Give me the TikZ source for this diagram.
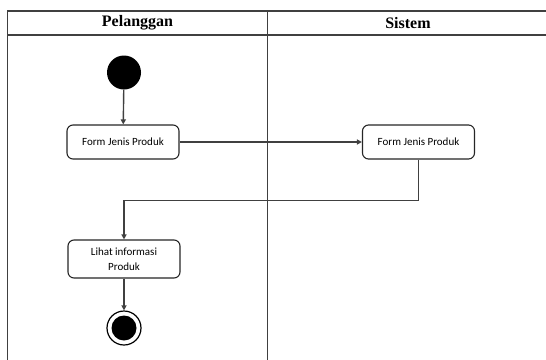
\documentclass[tikz,border=0pt]{standalone}
\usepackage{fontspec}
\setmainfont{Liberation Serif}
\newfontfamily\boxfont{Carlito}
\usetikzlibrary{arrows.meta}
\begin{document}
\begin{tikzpicture}[x=1pt,y=-1pt,
  frame/.style={draw=black!75,line width=1.3pt},
  act/.style={draw=black!85,line width=1.1pt,rounded corners=6pt,fill=white,
    minimum width=112pt,align=center,font=\boxfont\fontsize{11}{15.5}\selectfont},
  flow/.style={draw=black!75,line width=1.4pt,-{Triangle[length=5pt,width=5pt]}},
  hdr/.style={font=\bfseries\fontsize{16}{18}\selectfont}]
\useasboundingbox (0,0) rectangle (546,359);
% swimlanes
\draw[frame] (560,11) -- (7.5,11) -- (7.5,370);
\draw[frame] (7.5,35) -- (560,35);
\draw[frame] (267.5,11) -- (267.5,370);
\node[hdr] (h1) at (137.5,23) {Pelanggan};
\node[hdr] (h2) at (408,23) {Sistem};
% nodes
\node[circle,fill=black,minimum size=34pt,inner sep=0pt] (start) at (124,72.5) {};
\node[act,minimum height=34pt] (a1) at (123,142) {Form Jenis Produk};
\node[act,minimum height=34pt] (a2) at (418.5,142) {Form Jenis Produk};
\node[act,minimum height=38pt] (a3) at (124,259) {Lihat informasi\\Produk};
\node[circle,draw=black,line width=1.2pt,minimum size=34pt,inner sep=0pt] (end) at (124,328) {};
\node[circle,fill=black,minimum size=25pt,inner sep=0pt] at (end) {};
\coordinate (b1) at (418.5,200.5);
\coordinate (b2) at (124,200.5);
% flows
\draw[flow] (start) -- (a1);
\draw[flow] (a1) -- (a2);
\draw[flow] (a2.south) -- (b1) -- (b2) -- (a3.north);
\draw[flow] (a3) -- (end);
\end{tikzpicture}
\end{document}
